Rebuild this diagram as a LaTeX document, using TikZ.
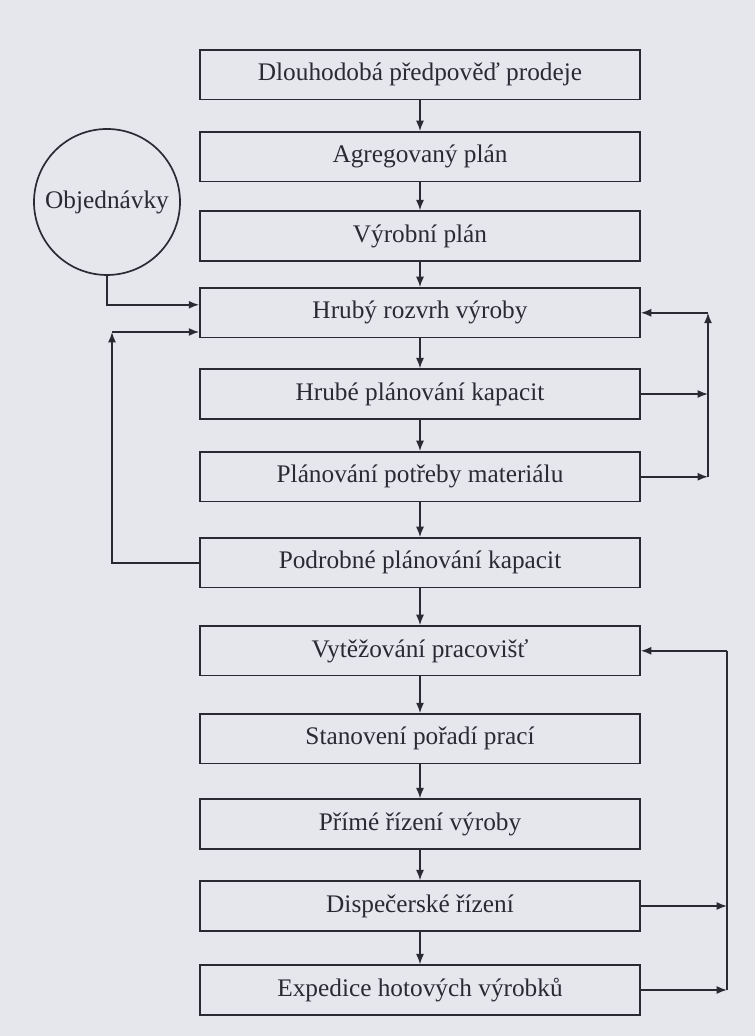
\documentclass[tikz,border=0pt]{standalone}
\usepackage{fontspec}
\setmainfont{Liberation Serif}
\usetikzlibrary{arrows.meta}
\definecolor{papir}{RGB}{230,230,237}
\definecolor{inkoust}{RGB}{42,42,50}
\tikzset{
  blok/.style={draw=inkoust, line width=1.2pt, minimum width=11cm, minimum height=1.24cm,
    inner sep=0pt, text=inkoust, font=\fontsize{18}{22}\selectfont},
  kruh/.style={draw=inkoust, line width=1.2pt, circle, minimum size=3.65cm,
    inner sep=0pt, text=inkoust, font=\fontsize{18}{22}\selectfont},
  sipka/.style={draw=inkoust, line width=1.1pt, -{Latex[length=2.6mm,width=2mm]}},
  cara/.style={draw=inkoust, line width=1.1pt},
}

\begin{document}
\begin{tikzpicture}[x=1cm,y=1cm]
    % pozadi stranky
    \fill[papir] (0,0) rectangle (18.875,25.9);
    \useasboundingbox (0,0) rectangle (18.875,25.9);
    % bloky planovani
    \node[blok] (predpoved) at (10.5,24.03) {Dlouhodobá předpověď prodeje};
    \node[blok] (agregovany) at (10.5,21.98) {Agregovaný plán};
    \node[blok] (vyrobni) at (10.5,20.0) {Výrobní plán};
    \node[blok] (rozvrh) at (10.5,18.08) {Hrubý rozvrh výroby};
    \node[blok] (kapacity) at (10.5,16.05) {Hrubé plánování kapacit};
    \node[blok] (material) at (10.5,13.98) {Plánování potřeby materiálu};
    \node[blok] (podrobne) at (10.5,11.83) {Podrobné plánování kapacit};
    \node[blok] (vytezovani) at (10.5,9.63) {Vytěžování pracovišť};
    \node[blok] (poradi) at (10.5,7.43) {Stanovení pořadí prací};
    \node[blok] (rizeni) at (10.5,5.3) {Přímé řízení výroby};
    \node[blok] (dispecer) at (10.5,3.25) {Dispečerské řízení};
    \node[blok] (expedice) at (10.5,1.15) {Expedice hotových výrobků};
    % objednavky
    \node[kruh] (objednavky) at (2.675,20.85) {Objednávky};
    % hlavni tok
    \draw[sipka] (predpoved) -- (agregovany);
    \draw[sipka] (agregovany) -- (vyrobni);
    \draw[sipka] (vyrobni) -- (rozvrh);
    \draw[sipka] (rozvrh) -- (kapacity);
    \draw[sipka] (kapacity) -- (material);
    \draw[sipka] (material) -- (podrobne);
    \draw[sipka] (podrobne) -- (vytezovani);
    \draw[sipka] (vytezovani) -- (poradi);
    \draw[sipka] (poradi) -- (rizeni);
    \draw[sipka] (rizeni) -- (dispecer);
    \draw[sipka] (dispecer) -- (expedice);
    % vstup objednavek
    \draw[sipka] (objednavky.south) |- ([yshift=2mm]rozvrh.west);
    % zpetna vazba vlevo
    \coordinate (levy) at (2.8,17.6);
    \draw[sipka] (podrobne.west) -| (levy);
    \draw[sipka] (levy) -- (levy -| rozvrh.west);
    % zpetna vazba vpravo nahore
    \coordinate (pravy) at (17.7,18.08);
    \draw[sipka] (kapacity.east) -- (kapacity.east -| pravy);
    \draw[sipka] (material.east) -- (material.east -| pravy);
    \draw[sipka] (material.east -| pravy) -- (pravy);
    \draw[sipka] (pravy) -- (rozvrh.east);
    % zpetna vazba vpravo dole
    \coordinate (dolni) at (18.175,9.63);
    \draw[sipka] (dispecer.east) -- (dispecer.east -| dolni);
    \draw[sipka] (expedice.east) -- (expedice.east -| dolni);
    \draw[cara] (expedice.east -| dolni) -- (dolni);
    \draw[sipka] (dolni) -- (vytezovani.east);
\end{tikzpicture}
\end{document}
